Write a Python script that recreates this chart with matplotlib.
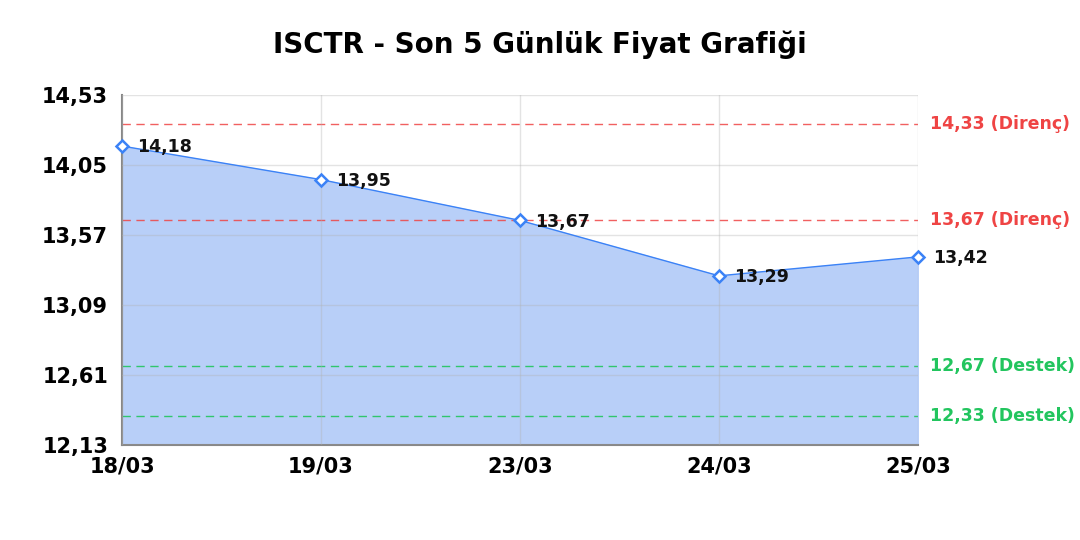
import numpy as np
import matplotlib.pyplot as plt

plt.rcParams['font.family'] = ['DejaVu Sans']

dates = ['18/03', '19/03', '23/03', '24/03', '25/03']
prices = [14.18, 13.95, 13.67, 13.29, 13.42]
resistance = [14.33, 13.67]
support = [12.67, 12.33]
yticks = [12.13, 12.61, 13.09, 13.57, 14.05, 14.53]


def fmt(v):
    return ('%.2f' % v).replace('.', ',')


fig = plt.figure(figsize=(10.8, 5.4), dpi=100)
ax = fig.add_axes([0.113, 0.176, 0.737, 0.648])

x = np.arange(len(dates))
ax.fill_between(x, prices, yticks[0], color='#b8cff8', zorder=1)
ax.plot(x, prices, color='#3b82f6', lw=1, zorder=3)
ax.plot(x, prices, ls='none', marker='D', ms=6, mfc='white', mec='#3b82f6',
        mew=1.8, zorder=4, clip_on=False)

for xi, p in zip(x, prices):
    ax.annotate(fmt(p), (xi, p), xytext=(11, -1), textcoords='offset points',
                va='center', ha='left', fontsize=12.5, fontweight='bold', color='#111111', zorder=5)

for r in resistance:
    ax.axhline(r, color='#ef4444', ls=(0, (6, 4)), lw=1, alpha=0.85, zorder=2)
    ax.text(1.015, r, fmt(r) + ' (Direnç)', transform=ax.get_yaxis_transform(),
            color='#ef4444', fontsize=12.5, fontweight='bold', va='center', ha='left')
for s in support:
    ax.axhline(s, color='#22c55e', ls=(0, (6, 4)), lw=1, alpha=0.9, zorder=2)
    ax.text(1.015, s, fmt(s) + ' (Destek)', transform=ax.get_yaxis_transform(),
            color='#22c55e', fontsize=12.5, fontweight='bold', va='center', ha='left')

ax.set_xlim(0, len(dates) - 1)
ax.set_ylim(yticks[0], yticks[-1])
ax.set_xticks(x)
ax.set_xticklabels(dates, fontsize=15, fontweight='bold')
ax.set_yticks(yticks)
ax.set_yticklabels([fmt(t) for t in yticks], fontsize=15, fontweight='bold')
ax.tick_params(length=0)
ax.tick_params(axis='y', pad=10)
ax.tick_params(axis='x', pad=8)
ax.grid(True, color='#b0b0b0', alpha=0.35, lw=1, zorder=0)
ax.set_axisbelow(False)
for sp in ['top', 'right']:
    ax.spines[sp].set_visible(False)
for sp in ['left', 'bottom']:
    ax.spines[sp].set_color('#888888')
    ax.spines[sp].set_linewidth(1.5)

fig.text(0.5, 1 - 53 / 540, 'ISCTR - Son 5 Günlük Fiyat Grafiği', fontsize=20,
         fontweight='bold', ha='center', va='baseline')
fig.savefig('out.png', dpi=100)
